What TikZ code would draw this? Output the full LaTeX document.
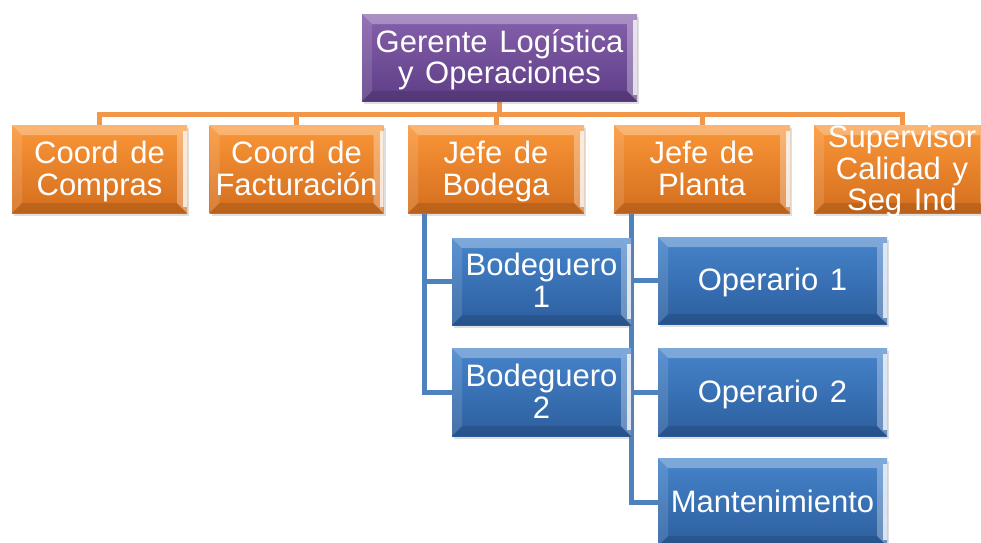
\documentclass[tikz,border=0pt]{standalone}
\usepackage{fontspec}
\setmainfont[WordSpace=1.35]{Liberation Sans}
\usetikzlibrary{shadows,calc}
\pgfdeclarelayer{background}
\pgfsetlayers{background,main}
\definecolor{purT}{RGB}{134,96,172}
\definecolor{purB}{RGB}{94,62,134}
\definecolor{oraT}{RGB}{250,150,56}
\definecolor{oraB}{RGB}{212,110,30}
\definecolor{bluT}{RGB}{70,132,203}
\definecolor{bluB}{RGB}{44,94,158}
\definecolor{oLine}{RGB}{242,150,72}
\definecolor{bLine}{RGB}{79,129,189}
\newcommand\ts{\rule{0pt}{30pt}}
\newcommand\bs{\rule[-10pt]{0pt}{10pt}}
\tikzset{
  bevel/.style={path picture={
    \path (path picture bounding box.north west) coordinate (pNW)
          (path picture bounding box.north east) coordinate (pNE)
          (path picture bounding box.south west) coordinate (pSW)
          (path picture bounding box.south east) coordinate (pSE);
    \fill[white,opacity=0.30] (pNW) -- (pNE) -- ($(pNE)+(-10pt,-10pt)$) -- ($(pNW)+(10pt,-10pt)$) -- cycle;
    \fill[white,opacity=0.12] (pNW) -- ($(pNW)+(10pt,-10pt)$) -- ($(pSW)+(10pt,10pt)$) -- (pSW) -- cycle;
    \fill[black,opacity=0.12] (pSW) -- (pSE) -- ($(pSE)+(-10pt,10pt)$) -- ($(pSW)+(10pt,10pt)$) -- cycle;
    \fill[white,opacity=0.30] (pNE) -- (pSE) -- ($(pSE)+(-10pt,10pt)$) -- ($(pNE)+(-10pt,-10pt)$) -- cycle;
    \fill[white,opacity=0.75] ($(pNE)+(-4pt,-6pt)$) rectangle ($(pSE)+(0pt,6pt)$);
  }},
  box/.style={rectangle, inner sep=0pt, text=white, align=center,
    font=\fontsize{31}{32}\selectfont, minimum height=88pt, minimum width=176pt,
    bevel, drop shadow={opacity=0.25,shadow xshift=2pt,shadow yshift=-3pt}},
  pbox/.style={box, top color=purT, bottom color=purB},
  obox/.style={box, top color=oraT, bottom color=oraB},
  bbox/.style={box, top color=bluT, bottom color=bluB},
  oline/.style={draw=oLine, line width=5pt},
  bline/.style={draw=bLine, line width=5pt},
}
\begin{document}
\begin{tikzpicture}[x=1pt,y=-1pt]
\useasboundingbox (0,0) rectangle (981,542);
\clip (0,0) rectangle (981,542);
\node[pbox, minimum width=275pt, minimum height=87pt, font=\fontsize{31}{31}\selectfont] (g) at (499.5,57.5) {\ts Gerente Logística\\y Operaciones\bs};
\node[obox, minimum width=175pt] (c1) at (99.5,169) {\ts Coord de\\Compras\bs};
\node[obox, minimum width=174pt] (c2) at (296.5,169) {\ts Coord de\\Facturación\bs};
\node[obox] (c3) at (496,169) {\ts Jefe de\\Bodega\bs};
\node[obox] (c4) at (702,169) {\ts Jefe de\\Planta\bs};
\node[obox, label={[text=white, align=center, inner sep=0pt, font=\fontsize{31}{31.5}\selectfont]center:\ts Supervisor\\Calidad y\\Seg Ind\bs}] (c5) at (902,169) {};
\node[bbox, minimum width=179pt, minimum height=87pt] (b1) at (541.5,281.5) {\ts Bodeguero\\1\bs};
\node[bbox, minimum width=179pt] (b2) at (541.5,392) {\ts Bodeguero\\2\bs};
\node[bbox, minimum width=229pt, minimum height=87pt] (o1) at (772.5,280.5) {\ts Operario 1\bs};
\node[bbox, minimum width=229pt] (o2) at (772.5,392) {\ts Operario 2\bs};
\node[bbox, minimum width=229pt] (m) at (772.5,502) {\ts Mantenimiento\bs};
\begin{pgfonlayer}{background}
\coordinate (bus) at (499.5,114);
\foreach \c in {c1,c2,c3,c4,c5}
  \draw[oline] (g.south) |- (bus) -| (\c.north);
\coordinate (bv) at ($(c3.south west)+(17pt,0pt)$);
\coordinate (pv) at ($(c4.south west)+(18pt,0pt)$);
\draw[bline] (bv) |- (b1.west);
\draw[bline] (bv) |- (b2.west);
\draw[bline] (pv) |- (o1.west);
\draw[bline] (pv) |- (o2.west);
\draw[bline] (pv) |- (m.west);
\end{pgfonlayer}
\end{tikzpicture}
\end{document}
